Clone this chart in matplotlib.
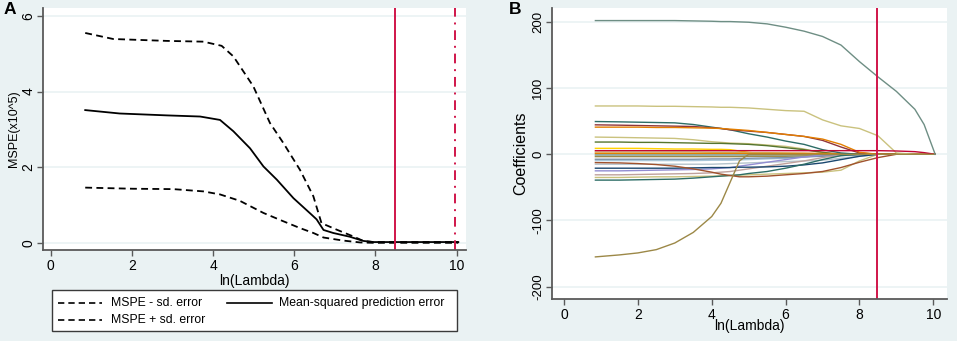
import matplotlib
matplotlib.use("Agg")
import matplotlib.pyplot as plt
from matplotlib.lines import Line2D
from matplotlib.patches import Rectangle

plt.rcParams['font.family'] = ['Liberation Sans', 'DejaVu Sans']
plt.rcParams['axes.unicode_minus'] = False

# ---------------- Panel A data ----------------
mspe_x = [0.85, 1.7, 2.86, 3.68, 4.17, 4.5, 4.91, 5.24, 5.57, 5.98, 6.43, 6.55, 6.72, 6.96, 7.37, 7.7, 7.95, 8.5, 9.0, 9.5, 10.04]
mspe_y = [3.51, 3.42, 3.37, 3.34, 3.25, 2.95, 2.5, 2.02, 1.67, 1.18, 0.74, 0.62, 0.34, 0.26, 0.16, 0.05, 0.02, 0.02, 0.02, 0.02, 0.02]
upper_x = [0.85, 1.54, 2.86, 3.76, 4.21, 4.5, 4.99, 5.4, 5.73, 6.14, 6.47, 6.67, 7.04, 7.45, 7.7, 7.95, 8.5, 9.0, 9.5, 10.04]
upper_y = [5.55, 5.39, 5.34, 5.32, 5.21, 4.93, 4.14, 3.17, 2.64, 1.93, 1.23, 0.52, 0.35, 0.17, 0.05, 0.02, 0.02, 0.02, 0.02, 0.02]
lower_x = [0.85, 2.03, 3.02, 3.76, 4.17, 4.66, 5.24, 5.73, 6.14, 6.47, 6.72, 7.2, 7.62, 7.95, 8.5, 9.0, 9.5, 10.04]
lower_y = [1.46, 1.43, 1.42, 1.36, 1.28, 1.11, 0.79, 0.57, 0.39, 0.26, 0.14, 0.06, 0.01, 0.0, 0.0, 0.0, 0.0, 0.0]
lambda_opt = 8.47
lambda_1se = 9.95
a_xticks = [0, 2, 4, 6, 8, 10]
a_yticks = [0, 2, 4, 6]
legend_labels = ['MSPE - sd. error', 'MSPE + sd. error', 'Mean-squared prediction error']

# ---------------- Panel B data ----------------
coef_x = [0.85, 1.5, 2.0, 2.5, 3.0, 3.5, 4.0, 4.25, 4.5, 4.75, 5.0, 5.5, 6.0, 6.5, 7.0, 7.5, 8.0, 8.5, 9.0, 9.5, 9.75, 10.05]
c_teal_top   = [202, 202, 202, 202, 202, 201.5, 201, 200.5, 200.5, 200, 199.5, 197, 192, 186, 178, 165, 140, 117, 95, 68, 45, 0]
c_khaki_73   = [73, 73, 73, 72.5, 72.5, 72, 71.5, 71, 71, 70.5, 70, 68, 66, 65, 52, 43, 39, 28, 2, 0, 0, 0]
c_emerald_49 = [49.5, 49, 48.5, 48, 47.5, 45, 41, 39, 37, 34, 31, 26, 20, 15, 7, 2, 0, 0, 0, 0, 0, 0]
c_maroon_44  = [44.5, 44, 43.5, 43, 42.5, 42, 40, 39, 37, 36, 35, 33, 30, 27, 21, 11, 2, 0, 0, 0, 0, 0]
c_orange_41  = [41, 41, 41, 40.5, 40.5, 40, 39.5, 39, 38, 37, 36, 33, 30, 27, 23, 15, 3, 0, 0, 0, 0, 0]
c_khaki_26   = [26, 25.5, 25, 24.5, 24, 22, 19, 18, 17, 16.5, 16, 14, 12, 8, 2, 0, 0, 0, 0, 0, 0, 0]
c_green_18   = [18.5, 18.5, 18, 18, 17.5, 17, 16.5, 16.5, 16, 15.5, 15, 13, 10, 7, 3, 0, 0, 0, 0, 0, 0, 0]
c_gold_9     = [9, 9, 9, 8.5, 8, 8, 7.5, 7.5, 7, 5, 3, 0, 0, 0, 0, 0, 0, 0, 0, 0, 0, 0]
c_cranb_5    = [5.5, 5.5, 5.5, 5.5, 5.5, 5.5, 5.5, 5.5, 5.5, 5.5, 5.5, 5.5, 5.5, 5.5, 5.5, 5.5, 5.5, 5.5, 5, 4, 2.5, 0]
c_khaki_3    = [3.5, 3.5, 3.5, 3.5, 3.5, 3.5, 3, 3, 3, 3, 2.5, 2.5, 2, 1.5, 1, 0.5, 0, 0, 0, 0, 0, 0]
c_dkor_1     = [1.5, 1.5, 1.5, 1.5, 1.5, 1.5, 1.5, 1.5, 1.5, 1.5, 1.5, 1.5, 1.5, 1.5, 1.2, 1, 0.8, 0.5, 0, 0, 0, 0]
c_teal_m1    = [-1, -1, -1, -1, -1, -1, -1, -1, -1, -1, -1, -1, -1, -1, -0.8, -0.5, 0, 0, 0, 0, 0, 0]
c_brown_m3   = [-3.5, -3.5, -3.5, -3.5, -3.5, -3.5, -3.5, -3.5, -3.5, -3.5, -3, -3, -3, -2.5, -2, -1, -0.5, 0, 0, 0, 0, 0]
c_mblue_m7   = [-7.5, -7.5, -7.5, -7.5, -7.5, -7.5, -7, -7, -7, -6.5, -6, -5.5, -5, -4, -3, -2, -1, 0, 0, 0, 0, 0]
c_lblue_m9   = [-9.5, -9.5, -9.5, -9.5, -9.5, -9.5, -9, -9, -9, -8.5, -8, -7, -6, -4, -2, -1, 0, 0, 0, 0, 0, 0]
c_sienna_m12 = [-12.5, -13, -14, -15.5, -18, -22, -27, -30, -32, -34, -34, -33, -31, -29, -26, -20, -12, -5, 0, 0, 0, 0]
c_gray_m15   = [-15, -15, -15, -15, -15, -15, -15, -14.5, -14, -13.5, -13, -12, -11, -10, -9, -6, -3, 0, 0, 0, 0, 0]
c_navy_m21   = [-21, -21, -21, -21, -21, -20.5, -20, -20, -20, -19.5, -19.5, -19, -18, -16, -13, -8, -3, 0, 0, 0, 0, 0]
c_laven_m25  = [-25, -25, -24.5, -24, -23.5, -23, -22, -21, -20, -18, -16, -12, -8, -4, -1, 0, 0, 0, 0, 0, 0, 0]
c_erose_m31  = [-31, -31, -30.5, -30, -29.5, -29, -28, -27, -26, -24, -22, -18, -14, -10, -5, -1, 0, 0, 0, 0, 0, 0]
c_khaki_m35  = [-35, -35, -34.5, -34, -34, -33.5, -33, -32.5, -32, -31.5, -31, -30, -29, -28, -27, -24, -10, 0, 0, 0, 0, 0]
c_emer_m39   = [-39, -39, -38.5, -38, -37.5, -36, -34, -33, -32, -31, -29, -26, -21, -15, -8, -2, 0, 0, 0, 0, 0, 0]
c_brown_m155 = [-155, -152, -149, -144, -134, -118, -94, -74, -42, -10, 0, 0, 0, 0, 0, 0, 0, 0, 0, 0, 0, 0]
b_xticks = [0, 2, 4, 6, 8, 10]
b_yticks = [-200, -100, 0, 100, 200]

coef_paths = [
    (c_lblue_m9, '#a9c6d8'), (c_gray_m15, '#b5c4cc'), (c_teal_m1, '#6e8e84'),
    (c_brown_m3, '#9c8847'), (c_mblue_m7, '#7b92a8'),
    (c_erose_m31, '#bfa19c'), (c_khaki_m35, '#cac27e'), (c_laven_m25, '#938dd2'),
    (c_navy_m21, '#1a476f'), (c_emer_m39, '#2d6d66'), (c_sienna_m12, '#a0522d'),
    (c_khaki_26, '#cac27e'), (c_green_18, '#55752f'), (c_gold_9, '#ffd200'),
    (c_khaki_3, '#cac27e'), (c_dkor_1, '#e37e00'),
    (c_emerald_49, '#2d6d66'), (c_maroon_44, '#90353b'), (c_orange_41, '#e37e00'),
    (c_khaki_73, '#cac27e'), (c_cranb_5, '#c10534'),
    (c_brown_m155, '#9c8847'), (c_teal_top, '#6e8e84'),
]

BG = '#eaf2f3'
AX = '#5a5a5a'
RED = '#d0154a'
W, H = 957, 341
DASH = (0, (3.8, 2.4))

fig = plt.figure(figsize=(W / 100, H / 100), dpi=100, facecolor=BG)

def fx(px):
    return px / W

def fy(py):
    return 1 - py / H

def style_axes(ax, size):
    ax.set_facecolor('white')
    for s in ['top', 'right']:
        ax.spines[s].set_visible(False)
    for s in ['left', 'bottom']:
        ax.spines[s].set_color(AX)
        ax.spines[s].set_linewidth(1.3)
    ax.tick_params(direction='out', length=4.5, width=1.0, color=AX, labelsize=size)
    ax.tick_params(axis='y', pad=1)
    ax.tick_params(axis='x', pad=2)
    ax.grid(axis='y', color=BG, linewidth=1.2)
    ax.set_axisbelow(True)
    for lab in ax.get_yticklabels():
        lab.set_rotation(90)
        lab.set_va('center')

# ---- Panel A ----
axA = fig.add_axes([fx(43), fy(250), (466 - 43) / W, (250 - 8) / H])
axA.plot(lower_x, lower_y, color='black', lw=1.3, ls=DASH)
axA.plot(upper_x, upper_y, color='black', lw=1.3, ls=DASH)
axA.plot(mspe_x, mspe_y, color='black', lw=1.3)
axA.axvline(lambda_opt, color=RED, lw=1.4)
axA.axvline(lambda_1se, color=RED, lw=1.4, ls=(0, (5, 3, 1, 3)))
axA.set_xlim(-0.19, 10.23)
axA.set_ylim(-0.19, 6.21)
axA.set_xticks(a_xticks)
axA.set_yticks(a_yticks)
style_axes(axA, 10)
axA.set_xlabel('ln(Lambda)', fontsize=10, labelpad=1)
axA.set_ylabel('MSPE(x10^5)', fontsize=9, labelpad=1)
fig.text(fx(10), fy(10), 'A', fontsize=12.5, fontweight='bold', ha='center', va='center')

# legend (Stata-style box below panel A)
fig.add_artist(Rectangle((fx(52), fy(331)), (457 - 52) / W, (331 - 290) / H,
                         transform=fig.transFigure, facecolor='white',
                         edgecolor='#3a3a3a', linewidth=1.0))
leg_rows = [(58, 102, 110.7, 302.7, DASH, legend_labels[0]),
            (58, 102, 110.7, 320.0, DASH, legend_labels[1]),
            (227, 272, 279.0, 302.7, '-', legend_labels[2])]
for x0, x1, tx, yy, ls, lab in leg_rows:
    fig.add_artist(Line2D([fx(x0), fx(x1)], [fy(yy), fy(yy)], transform=fig.transFigure,
                          color='black', lw=1.2, ls=ls))
    fig.text(fx(tx), fy(yy), lab, fontsize=8.8, ha='left', va='center')

# ---- Panel B ----
axB = fig.add_axes([fx(552), fy(299), (947 - 552) / W, (299 - 8) / H])
for vals, col in coef_paths:
    axB.plot(coef_x, vals, color=col, lw=1.0)
axB.axvline(lambda_opt, color=RED, lw=1.4)
axB.set_xlim(-0.325, 10.37)
axB.set_ylim(-218.6, 221)
axB.set_xticks(b_xticks)
axB.set_yticks(b_yticks)
style_axes(axB, 9.5)
for lab in axB.get_xticklabels():
    lab.set_fontsize(10)
axB.set_xlabel('ln(Lambda)', fontsize=10, labelpad=-2)
axB.set_ylabel('Coefficients', fontsize=11.5, labelpad=3)
fig.text(fx(515), fy(10), 'B', fontsize=12.5, fontweight='bold', ha='center', va='center')

fig.savefig('out.png', dpi=100, facecolor=BG)
